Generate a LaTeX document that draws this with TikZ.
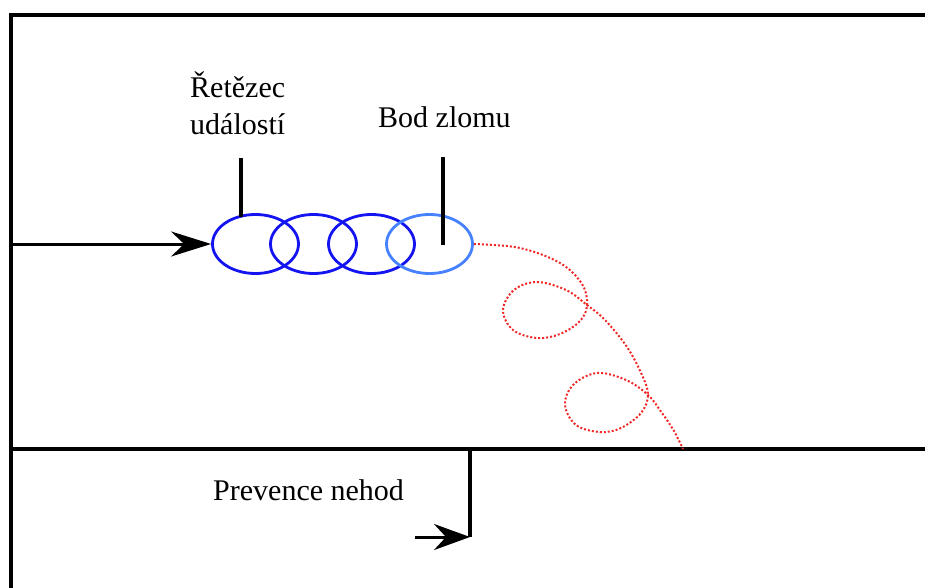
\documentclass[tikz,border=0pt]{standalone}
\usepackage{fontspec}
\setmainfont{Liberation Serif}
\usetikzlibrary{arrows.meta,shapes.geometric}
\definecolor{chainblue}{RGB}{20,20,240}
\definecolor{breakblue}{RGB}{70,130,255}
\definecolor{pathred}{RGB}{240,40,40}
\tikzset{
  frameline/.style={line width=4.6pt},
  calloutline/.style={line width=4pt},
  eventring/.style={ellipse, draw=chainblue, line width=2.8pt, minimum width=86pt, minimum height=59pt, inner sep=0pt},
  breakring/.style={eventring, draw=breakblue},
  label/.style={font=\fontsize{30}{37}\selectfont, anchor=base west, inner sep=0pt},
  flowarrow/.style={line width=3pt, -{Stealth[length=40pt,width=25pt,inset=13pt]}},
  deviation/.style={pathred, dotted, line width=2pt}
}
\begin{document}
\begin{tikzpicture}[x=1pt,y=-1pt]
\useasboundingbox (0,0) rectangle (925,588);
% frame
\coordinate (tl) at (11,15);
\coordinate (tr) at (925,15);
\coordinate (bl) at (11,588);
\coordinate (ml) at (11,449);
\coordinate (mr) at (925,449);
\draw[frameline] (tr) -- (tl) -- (bl);
\draw[frameline] (ml) -- (mr);
% chain of events
\node[eventring] (e1) at (255.5,244) {};
\node[eventring] (e2) at (313.5,244) {};
\node[eventring] (e3) at (371.5,244) {};
\node[breakring] (e4) at (429.5,244) {};
% incoming arrow
\coordinate (in) at (11,244);
\draw[flowarrow] (in) -- (e1.west);
% labels
\node[label] (t1) at (190,98) {Řetězec};
\node[label] (t2) at (190,135) {událostí};
\node[label] (t3) at (378,128) {Bod zlomu};
\node[label] (t4) at (213,500) {Prevence nehod};
% callouts
\coordinate (c1) at (241,158);
\coordinate (c1end) at (241,217);
\draw[calloutline] (c1) -- (c1end);
\coordinate (c2) at (443,157);
\coordinate (c2end) at (443,245);
\draw[calloutline] (c2) -- (c2end);
% deviation path
\draw[deviation] plot[smooth, tension=0.6] coordinates {
  (e4.east) (520,248) (560,263) (582,284) (587,305) (580,321) (560,334) (537,338)
  (513,330) (503,310) (514,290) (537,282) (566,290) (587,305)
  (605,320) (627,347) (642,375) (648,395) (641,413) (621,428) (600,432)
  (576,425) (565,405) (573,385) (597,373) (626,380) (648,395)
  (662,413) (674,431) (683,449)};
% prevention
\coordinate (ptop) at (470,449);
\coordinate (pbot) at (470,537);
\coordinate (pin) at (415,537);
\draw[line width=4pt] (ptop) -- (pbot);
\draw[line width=3pt, -{Stealth[length=36pt,width=26pt,inset=12pt]}] (pin) -- (pbot);
\end{tikzpicture}
\end{document}
